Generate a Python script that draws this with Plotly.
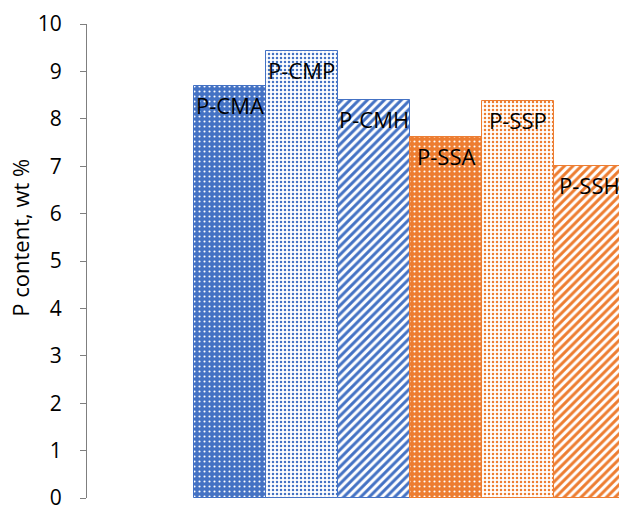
import plotly.graph_objects as go

# Phosphorus content of the six samples
samples = ["P-CMA", "P-CMP", "P-CMH", "P-SSA", "P-SSP", "P-SSH"]
p_content = [8.69, 9.42, 8.40, 7.62, 8.38, 7.01]
y_ticks = [0, 1, 2, 3, 4, 5, 6, 7, 8, 9, 10]

BLUE = "#4472C4"
ORANGE = "#ED7D31"
series_colors = [BLUE, BLUE, BLUE, ORANGE, ORANGE, ORANGE]

# fill styles: dotted solid, light dotted, diagonal hatch
fill_bg = [BLUE, "white", "white", ORANGE, "white", "white"]
pat_shape = [".", ".", "/", ".", ".", "/"]
pat_fg = ["white", BLUE, BLUE, "white", ORANGE, ORANGE]
pat_size = [5, 4, 6, 5, 4, 6]
pat_solid = [0.14, 0.3, 0.5, 0.14, 0.3, 0.5]

FONT = "Open Sans"

fig = go.Figure()
for i, name in enumerate(samples):
    fig.add_trace(go.Bar(
        x=[name],
        y=[p_content[i]],
        width=1,
        marker=dict(
            color=fill_bg[i],
            line=dict(color=series_colors[i], width=1),
            pattern=dict(shape=pat_shape[i], fgcolor=pat_fg[i],
                         bgcolor=fill_bg[i], size=pat_size[i],
                         solidity=pat_solid[i], fillmode="overlay",
                         fgopacity=1),
        ),
        name=name,
        showlegend=False,
        hoverinfo="x+y",
    ))

for name, val in zip(samples, p_content):
    fig.add_annotation(
        x=name, y=val, xref="x", yref="y",
        text=name, showarrow=False,
        yanchor="middle", yshift=-19,
        font=dict(family=FONT, size=22, color="black"),
    )

fig.add_annotation(
    x=-0.126, y=0.549, xref="paper", yref="paper",
    text="P content, wt %", textangle=-90, showarrow=False,
    xanchor="center", yanchor="middle",
    font=dict(family=FONT, size=22, color="black"),
)

fig.update_layout(
    width=619, height=506,
    margin=dict(l=87, r=0, t=24, b=8, autoexpand=False),
    paper_bgcolor="white", plot_bgcolor="white",
    barmode="overlay", bargap=0,
    font=dict(family=FONT, color="black"),
    xaxis=dict(
        type="category", categoryorder="array", categoryarray=samples,
        range=[-1.986, 5.403],
        showline=False, showticklabels=False, ticks="",
        showgrid=False, zeroline=False,
    ),
    yaxis=dict(
        range=[0, 10], tickvals=y_ticks, ticks="outside", ticklen=6,
        tickcolor="#7f7f7f", showline=True, linecolor="#7f7f7f", linewidth=1,
        showgrid=False, zeroline=False, automargin=False,
        tickfont=dict(family=FONT, size=21, color="black"),
        ticklabelstandoff=14, ticklabeloverflow="allow",
    ),
)

fig.write_html("out.html")
